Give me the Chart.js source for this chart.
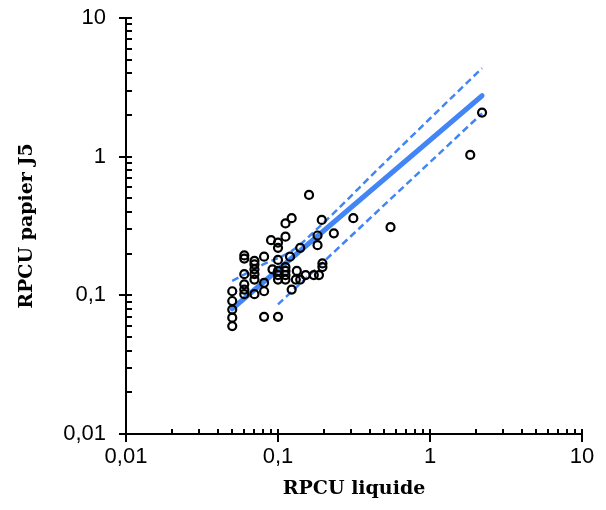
<!DOCTYPE html>
<html><head><meta charset="utf-8">
<script src="https://cdn.jsdelivr.net/npm/chart.js@4"></script>
<style>html,body{margin:0;padding:0;background:#fff}canvas{display:block}</style>
</head><body>
<canvas id="c" width="606" height="510"></canvas>
<script>
// Scatter data: RPCU liquide (x) vs RPCU papier J5 (y)
const liquide = [2.2, 1.84, 0.55, 0.313, 0.233, 0.16, 0.194, 0.123, 0.112, 0.182, 0.182, 0.112, 0.09, 0.1, 0.1, 0.14,
  0.12, 0.1, 0.196, 0.196, 0.186, 0.172, 0.152, 0.133, 0.131, 0.14, 0.123,
  0.112, 0.112, 0.112, 0.112, 0.1, 0.1, 0.1,
  0.081, 0.092, 0.081, 0.081, 0.081, 0.1,
  0.07, 0.07, 0.07, 0.07, 0.07, 0.07,
  0.06, 0.06, 0.06, 0.06, 0.06, 0.06,
  0.05, 0.05, 0.05, 0.05, 0.05];
const papier = [2.08, 1.03, 0.31, 0.36, 0.28, 0.53, 0.35, 0.36, 0.33, 0.27, 0.23, 0.265, 0.25, 0.24, 0.22, 0.22,
  0.19, 0.18, 0.17, 0.16, 0.14, 0.14, 0.14, 0.15, 0.13, 0.13, 0.11,
  0.16, 0.15, 0.14, 0.13, 0.15, 0.14, 0.13,
  0.19, 0.154, 0.123, 0.107, 0.07, 0.07,
  0.177, 0.167, 0.154, 0.142, 0.13, 0.102,
  0.194, 0.184, 0.142, 0.12, 0.11, 0.102,
  0.107, 0.091, 0.079, 0.069, 0.06];
// Regression line and band
const fitX = [0.05, 2.2];
const fitY = [0.08, 2.75];
const upperX = [0.05, 0.08, 0.124, 0.18, 0.5, 2.2];
const upperY = [0.127, 0.167, 0.21, 0.30, 0.9, 4.35];
const lowerX = [0.1, 2.2];
const lowerY = [0.086, 2.05];
// Axis ticks
const tickValues = [0.01,0.02,0.03,0.04,0.05,0.06,0.07,0.08,0.09,
  0.1,0.2,0.3,0.4,0.5,0.6,0.7,0.8,0.9,
  1,2,3,4,5,6,7,8,9,10];
const majorTicks = [0.01, 0.1, 1, 10];
const majorLabels = ['0,01', '0,1', '1', '10'];
const xTitle = 'RPCU liquide';
const yTitle = 'RPCU papier J5';

const BLUE = '#4285F4';
const pts = (xs, ys) => xs.map((v, i) => ({x: v, y: ys[i]}));
const isMajor = v => majorTicks.some(m => Math.abs(m - v) < 1e-9);
const labelFor = v => { const i = majorTicks.findIndex(m => Math.abs(m - v) < 1e-9); return i >= 0 ? majorLabels[i] : ''; };

const tickPlugin = {
  id: 'logTicks',
  afterDraw(chart) {
    const {ctx, chartArea: ca, scales: {x, y}} = chart;
    ctx.save();
    ctx.strokeStyle = '#000';
    ctx.lineWidth = 2;
    ctx.beginPath();
    tickValues.forEach(v => {
      const px = Math.round(x.getPixelForValue(v));
      if (isMajor(v)) { ctx.moveTo(px, ca.bottom - 5); ctx.lineTo(px, ca.bottom + 8); }
      else { ctx.moveTo(px, ca.bottom - 5); ctx.lineTo(px, ca.bottom); }
      const py = Math.round(y.getPixelForValue(v));
      if (isMajor(v)) { ctx.moveTo(ca.left - 7, py); ctx.lineTo(ca.left + 6, py); }
      else { ctx.moveTo(ca.left, py); ctx.lineTo(ca.left + 6, py); }
    });
    ctx.stroke();
    ctx.restore();
  }
};

const noPad = s => { s.paddingTop = 0; s.paddingBottom = 0; s.paddingLeft = 0; s.paddingRight = 0; };
const tickFont = {family: '"Liberation Sans", Arial, sans-serif', size: 22};
const titleFont = {family: '"DejaVu Serif", serif', size: 19, weight: 'bold'};

new Chart(document.getElementById('c'), {
  type: 'scatter',
  data: {
    datasets: [
      {data: pts(liquide, papier), pointStyle: 'circle', pointRadius: 4, pointBorderWidth: 2.2,
       borderColor: '#000', backgroundColor: 'rgba(0,0,0,0)', showLine: false},
      {data: pts(fitX, fitY), showLine: true, borderColor: BLUE, borderWidth: 5, pointRadius: 0, borderCapStyle: 'round'},
      {data: pts(upperX, upperY), showLine: true, borderColor: BLUE, borderWidth: 2.5, borderDash: [7, 4], pointRadius: 0, cubicInterpolationMode: 'monotone'},
      {data: pts(lowerX, lowerY), showLine: true, borderColor: BLUE, borderWidth: 2.5, borderDash: [7, 4], pointRadius: 0}
    ]
  },
  options: {
    responsive: false,
    animation: false,
    layout: {padding: {top: 18, right: 24, left: 0, bottom: 0}},
    plugins: {legend: {display: false}, tooltip: {enabled: false}},
    scales: {
      x: {
        type: 'logarithmic', min: 0.01, max: 10,
        afterBuildTicks: s => { s.ticks = tickValues.map(v => ({value: v})); },
        afterFit: s => { s.height = 76; noPad(s); },
        grid: {display: false, drawTicks: false},
        border: {display: true, color: '#000', width: 2},
        ticks: {autoSkip: false, maxRotation: 0, padding: 10, color: '#000', font: tickFont, callback: v => labelFor(v)},
        title: {display: true, text: xTitle, color: '#000', font: titleFont, padding: {top: 0, bottom: 10}}
      },
      y: {
        type: 'logarithmic', min: 0.01, max: 10,
        afterBuildTicks: s => { s.ticks = tickValues.map(v => ({value: v})); },
        afterFit: s => { s.width = 126; noPad(s); },
        grid: {display: false, drawTicks: false},
        border: {display: true, color: '#000', width: 2},
        ticks: {autoSkip: false, padding: 20, color: '#000', font: tickFont, callback: v => labelFor(v)},
        title: {display: true, text: yTitle, color: '#000', font: titleFont, padding: {top: 16, bottom: 0}}
      }
    }
  },
  plugins: [tickPlugin]
});
</script>
</body></html>
